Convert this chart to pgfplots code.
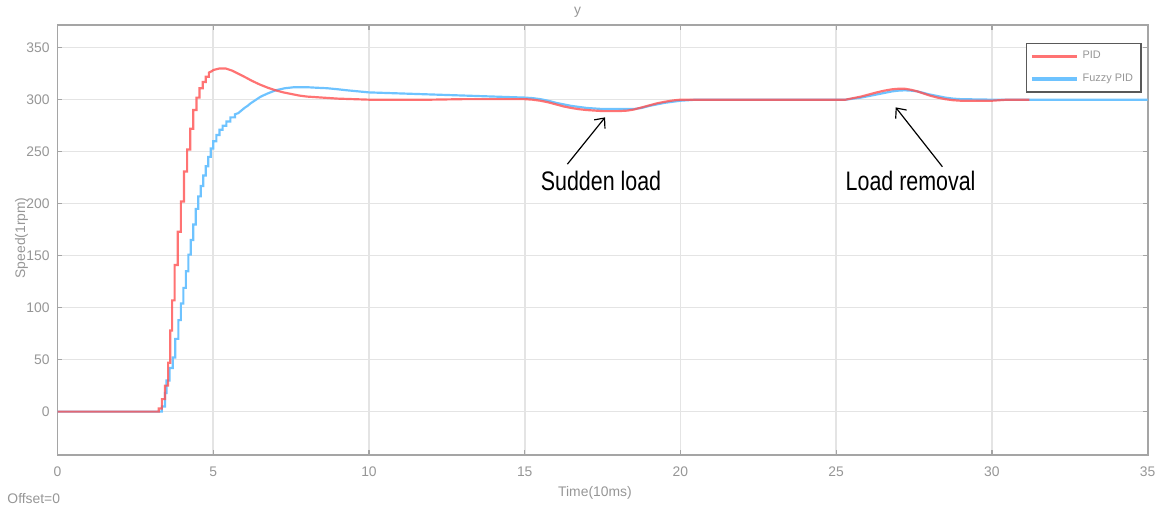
\documentclass[border=0pt]{standalone}
\usepackage{pgfplots}
\pgfplotsset{compat=1.18}
\usepackage{fontspec}
\setmainfont{Liberation Sans}
\usetikzlibrary{arrows.meta}
\definecolor{pidred}{RGB}{255,80,80}
\definecolor{fuzzyblue}{RGB}{110,195,255}
\definecolor{axgray}{RGB}{165,165,165}
\definecolor{txtgray}{RGB}{150,150,150}
\definecolor{gridgray}{RGB}{228,228,228}
\begin{document}
\begin{tikzpicture}
\path (-29pt,-27pt) rectangle (552pt,229.5pt);
\begin{axis}[
  scale only axis,
  width=549.5pt, height=217pt,
  xmin=0, xmax=35, ymin=-42, ymax=372,
  xtick={0,5,...,35}, ytick={0,50,...,350},
  grid=major,
  major grid style={gridgray, line width=0.8pt},
  axis line style={axgray, line width=0.9pt},
  tick align=inside,
  major tick length=2.5pt,
  tick style={axgray, line width=0.7pt},
  tick label style={font=\fontsize{7}{8}\selectfont, text=txtgray},
  /pgf/number format/assume math mode=true,
  xticklabel style={yshift=-2.5pt},
  yticklabel style={xshift=-0.5pt},
  xlabel={Time(10ms)},
  ylabel={Speed(1rpm)},
  label style={font=\fontsize{7}{8}\selectfont, text=txtgray},
  xlabel style={at={(axis description cs:0.493,-0.0876)}, anchor=center},
  ylabel style={at={(axis description cs:-0.033,0.505)}, anchor=center},
  legend style={at={(rel axis cs:0.9945,0.9585)}, anchor=north east,
    draw=black!65, line width=0.8pt, font=\fontsize{5.5}{6.5}\selectfont, text=txtgray,
    inner sep=2pt, row sep=2pt, cells={anchor=west}},
  legend image code/.code={\draw[#1, line width=1.6pt] (0cm,0cm) -- (0.8cm,0cm);},
  clip mode=individual,
]
\addlegendimage{pidred, opacity=0.8}
\addlegendentry{PID}
\addlegendimage{fuzzyblue}
\addlegendentry{Fuzzy PID}
\addplot[fuzzyblue, line width=1.1pt, forget plot] coordinates {
(0,0) (3.3,0) (3.35,0) (3.35,5) (3.45,5) (3.45,18) (3.5,18) (3.5,30) (3.6,30) (3.6,42)
(3.7,42) (3.7,52) (3.78,52) (3.78,70) (3.88,70) (3.88,88) (3.96,88) (3.96,104) (4.04,104)
(4.04,119) (4.12,119) (4.12,135) (4.2,135) (4.2,151) (4.28,151) (4.28,165) (4.36,165)
(4.36,180) (4.44,180) (4.44,195) (4.52,195) (4.52,207) (4.6,207) (4.6,217) (4.68,217)
(4.68,227) (4.76,227) (4.76,236) (4.84,236) (4.84,245) (4.92,245) (4.92,253) (5.0,253)
(5.0,260) (5.1,260) (5.1,266) (5.2,266) (5.2,271) (5.3,271) (5.3,275) (5.42,275) (5.42,279)
(5.55,279) (5.55,283) (5.7,283) (5.7,286)
(5.8,287) (5.9,289.5) (6.0,292) (6.1,294) (6.2,296.5) (6.3,298.5) (6.4,300.5) (6.5,302.5) (6.6,304)
(6.75,306) (6.9,307.8) (7.0,309) (7.15,310) (7.3,311) (7.45,311.5) (7.6,312) (8,312) (8.3,311.5)
(8.66,311) (9.0,310) (9.3,309) (9.65,308) (10,307) (10.5,306.5) (11,306) (11.5,305.5) (12,305)
(12.5,304.5) (13,304) (13.5,303.5) (14,303) (14.5,302.5) (15,302) (15.25,301.5) (15.5,300.5)
(15.75,299) (16,297) (16.25,295.5) (16.5,294) (16.75,293) (17,292) (17.5,291) (18,291)
(18.5,291) (18.75,292) (19,294) (19.25,295.5) (19.5,297) (19.75,298) (20,299) (20.5,300)
(25.3,300) (25.55,301) (25.8,302) (26.05,303.5) (26.3,305) (26.55,306.5) (26.8,308)
(27.0,308.7) (27.2,309) (27.4,308.7) (27.6,308) (27.8,306.5) (28.0,305) (28.25,303.5)
(28.5,302) (28.75,301) (29,300.5) (30,300) (35,300)
};
\addplot[pidred, opacity=0.8, line width=1.1pt, forget plot] coordinates {
(0,0) (3.22,0) (3.25,0) (3.25,3) (3.35,3) (3.35,12) (3.45,12) (3.45,25) (3.55,25) (3.55,47)
(3.62,47) (3.62,78) (3.68,78) (3.68,107) (3.76,107) (3.76,141) (3.86,141) (3.86,173)
(3.96,173) (3.96,202) (4.06,202) (4.06,231) (4.16,231) (4.16,252) (4.26,252) (4.26,272)
(4.36,272) (4.36,290) (4.46,290) (4.46,302) (4.56,302) (4.56,311) (4.66,311) (4.66,317)
(4.76,317) (4.76,322) (4.86,322) (4.86,326) (4.96,327.5)
(5.0,328.5) (5.2,330) (5.4,330) (5.6,328) (5.8,325) (6.0,322) (6.25,318)
(6.5,314.5) (6.75,311.5) (7.0,309) (7.25,307) (7.5,305.5) (7.75,304) (8.0,303) (8.5,302)
(9.0,301) (9.5,300.5) (10,300) (11,300) (12,300) (13,300.5) (14,300.5) (15,300.5)
(15.25,300) (15.5,299) (15.75,297.5) (16,295.5) (16.25,293.5) (16.5,292) (16.75,290.8)
(17,290) (17.5,289) (18,289) (18.3,289.5) (18.5,290.5) (18.75,292.5) (19,294.5) (19.25,296.5)
(19.5,298) (19.75,299.2) (20,300) (21,300) (25.3,300) (25.55,301.5) (25.8,303)
(26.05,305) (26.3,307) (26.55,308.7) (26.8,310) (27.0,310.5) (27.2,310.5) (27.4,309.5)
(27.6,308) (27.8,306) (28.0,304) (28.25,302) (28.5,300.5) (28.75,299.5) (29,299) (30,299)
(30.5,300) (31.2,300)
};
\node[font=\fontsize{7}{8}\selectfont, text=txtgray] at (rel axis cs:0.477,1.03) {y};
\node[font=\fontsize{7}{8}\selectfont, text=txtgray] at (rel axis cs:-0.0218,-0.101) {Offset=0};
\node at (axis cs:17.45,222) {\scalebox{0.8}[1]{\fontsize{13.5}{14}\selectfont Sudden load}};
\node at (axis cs:27.39,222) {\scalebox{0.8}[1]{\fontsize{13.5}{14}\selectfont Load removal}};
\draw[-{Straight Barb[length=4pt,width=7pt]}, line width=0.6pt] (axis cs:16.37,238) -- (axis cs:17.58,283);
\draw[-{Straight Barb[length=4pt,width=7pt]}, line width=0.6pt] (axis cs:28.41,235.5) -- (axis cs:26.91,292.6);
\end{axis}
\end{tikzpicture}
\end{document}
